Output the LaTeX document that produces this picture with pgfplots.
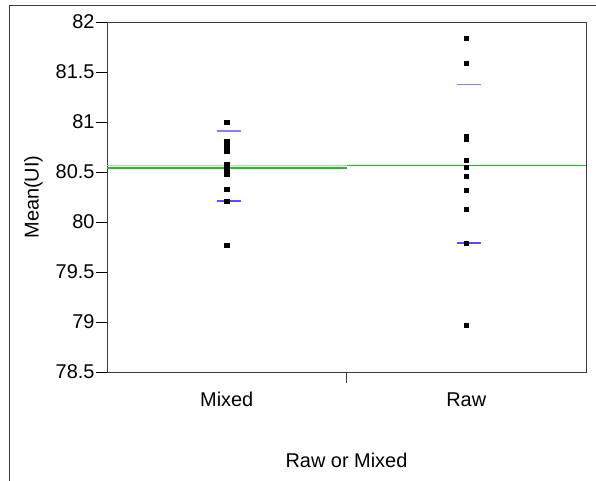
\documentclass[border=0pt]{standalone}
\usepackage{fontspec}
\setmainfont{Liberation Sans}
\usepackage{pgfplots}
\pgfplotsset{compat=1.18}
\definecolor{meangreen}{RGB}{20,200,20}
\definecolor{sdblue}{RGB}{95,75,255}
\definecolor{sdlight}{RGB}{140,125,255}
\definecolor{axisgray}{RGB}{60,60,60}
\begin{document}
\begin{tikzpicture}
  \path[use as bounding box] (0bp,0bp) rectangle (596bp,481bp);
  \draw[axisgray, line width=1bp] (9bp,0bp) -- (9bp,475bp) -- (596bp,475bp);
  \begin{axis}[
      at={(107bp,109bp)}, anchor=south west,
      width=479bp, height=350bp, scale only axis,
      xmin=0, xmax=2, ymin=78.5, ymax=82,
      axis line style={axisgray, line width=0.9bp},
      tick label style={font=\fontsize{20}{22}\selectfont},
      label style={font=\fontsize{20}{22}\selectfont},
      /pgf/number format/assume math mode=true,
      ytick={78.5,79,79.5,80,80.5,81,81.5,82},
      tick align=outside,
      ytick pos=left,
      major tick length=11bp,
      ytick style={black, line width=0.8bp},
      xtick={0.5,1.5}, xticklabels={Mixed,Raw},
      xtick style={draw=none},
      xticklabel style={yshift=-6bp},
      yticklabel style={xshift=2bp},
      xlabel={Raw or Mixed},
      xlabel style={yshift=-39bp},
      ylabel={Mean(UI)},
      ylabel style={yshift=6bp},
      clip=false,
    ]
    % group means
    \addplot[draw=meangreen, line width=1.2bp] coordinates {(1,80.567) (2,80.567)};
    % grand mean
    \addplot[draw=gray!45, line width=1bp] coordinates {(0,80.56) (1,80.56)};
    \addplot[draw=meangreen, line width=1.1bp] coordinates {(0,80.54) (1,80.54)};
    % std dev markers
    \addplot[draw=sdlight, line width=1.2bp] coordinates {(0.46,80.91) (0.56,80.91)};
    \addplot[draw=sdblue, line width=1.2bp] coordinates {(0.46,80.21) (0.56,80.21)};
    \addplot[draw=sdlight, line width=1.2bp] coordinates {(1.46,81.375) (1.56,81.375)};
    \addplot[draw=sdblue, line width=1.2bp] coordinates {(1.46,79.79) (1.56,79.79)};
    % data
    \addplot[only marks, mark=square*, mark size=2.2bp, black] coordinates {
      (0.5,81.00) (0.5,80.81) (0.5,80.76) (0.5,80.71) (0.5,80.58)
      (0.5,80.53) (0.5,80.48) (0.5,80.33) (0.5,80.21) (0.5,79.77)
    };
    \addplot[only marks, mark=square*, mark size=2.2bp, black] coordinates {
      (1.5,81.84) (1.5,81.59) (1.5,80.86) (1.5,80.83) (1.5,80.62)
      (1.5,80.55) (1.5,80.46) (1.5,80.32) (1.5,80.13) (1.5,79.79)
      (1.5,78.97)
    };
    \draw[axisgray, line width=0.8bp] (axis cs:1,78.5) -- ++(0bp,-11bp);
  \end{axis}
\end{tikzpicture}
\end{document}
